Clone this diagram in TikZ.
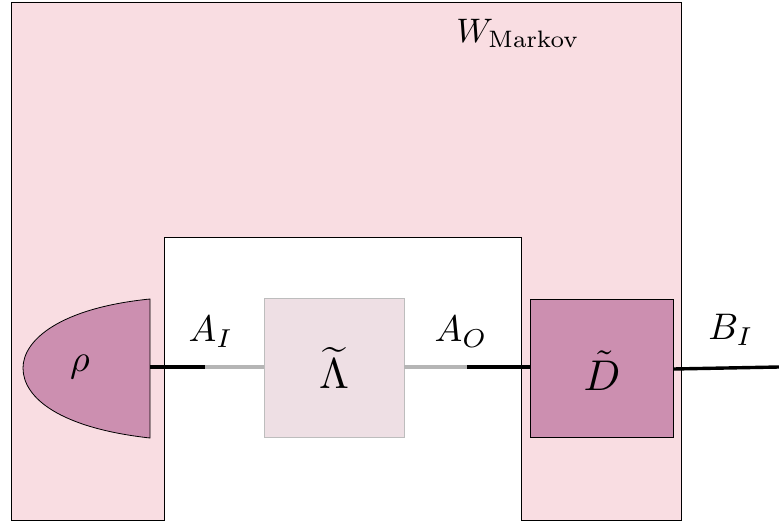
\documentclass[tikz,border=0pt]{standalone}
\usepackage{amsmath}
\definecolor{wpink}{HTML}{F9DDE2}
\definecolor{boxpurple}{HTML}{CC8FB0}
\definecolor{lampink}{HTML}{EEDFE4}
\definecolor{wiregray}{HTML}{B5B5B5}
\definecolor{lamborder}{HTML}{BDBDBD}
\begin{document}
\begin{tikzpicture}[x=1pt,y=-1pt,
  wire/.style={line width=3.4pt},
  graywire/.style={line width=3.4pt,wiregray},
  lbl/.style={scale=3.7},
  big/.style={scale=4.3},
  outline/.style={draw=black,line width=0.8pt}]
\useasboundingbox (0,0) rectangle (779,524);
% outer comb W
\path[outline,fill=wpink] (11,2) -- (681,2) -- (681,520) -- (521,520) -- (521,237)
  -- (164,237) -- (164,520) -- (11,520) -- cycle;
\node[scale=3.4] (W) at (518,33) {$W_{\mathrm{Markov}}$};
% rho
\path[outline,fill=boxpurple] (150,299) .. controls (60,308) and (23,340) .. (23,368)
  .. controls (23,398) and (60,428) .. (150,438) -- cycle;
\node[scale=3.8] (rho) at (80,367) {$\rho$};
\coordinate (rhoout) at (150,367);
% Lambda
\node[draw=lamborder,fill=lampink,minimum width=140pt,minimum height=139pt,
  inner sep=0pt,line width=0.8pt] (lam) at (334,367.5) {};
\node[big] (lamlbl) at (334,368) {$\widetilde{\Lambda}$};
% D
\node[outline,fill=boxpurple,minimum width=143pt,minimum height=138pt,
  inner sep=0pt] (D) at (601.5,368) {};
\node[big] (Dlbl) at (602,371) {$\tilde{D}$};
% wires
\coordinate (AIsplit) at (205,367);
\coordinate (AOsplit) at (467,367);
\coordinate (Bend) at (779,367);
\draw[wire] (rhoout) -- (AIsplit);
\draw[graywire] (AIsplit) -- (lam.west |- AIsplit);
\draw[graywire] (lam.east |- AOsplit) -- (AOsplit);
\draw[wire] (AOsplit) -- (D.west |- AOsplit);
\draw[wire] (D.east |- 0,369) -- (Bend);
% labels
\node[lbl] (AI) at (211,332) {$A_I$};
\node[lbl] (AO) at (461,332) {$A_O$};
\node[lbl] (BI) at (731,330) {$B_I$};
\end{tikzpicture}
\end{document}
